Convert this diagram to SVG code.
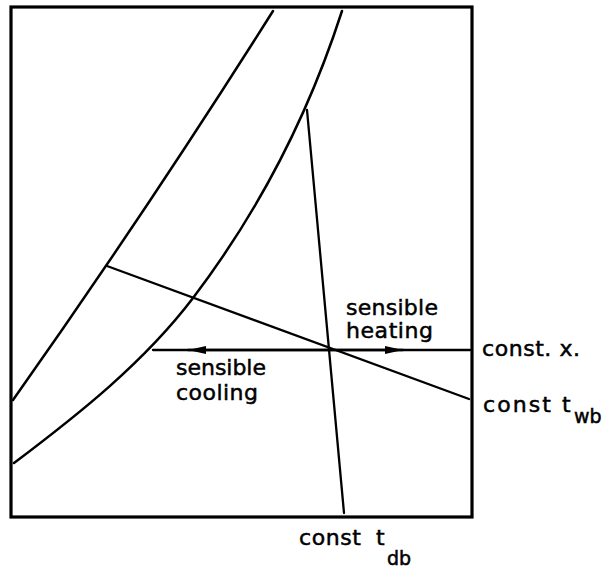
<svg xmlns="http://www.w3.org/2000/svg" width="609" height="575" viewBox="0 0 609 575">
<defs>
<style>
.frame{fill:none;stroke:#000;stroke-width:3.2}
.curve{fill:none;stroke:#000;stroke-width:2.5;stroke-linecap:round}
.ln{fill:none;stroke:#000;stroke-width:2.3;stroke-linecap:round}
.lbl{font-family:"DejaVu Sans","Liberation Sans",sans-serif;font-size:22px;fill:#000;stroke:#000;stroke-width:0.5}
.sub{font-family:"DejaVu Sans","Liberation Sans",sans-serif;font-size:19px;fill:#000;stroke:#000;stroke-width:0.5}
</style>
<marker id="arr" markerUnits="userSpaceOnUse" markerWidth="20" markerHeight="10" refX="18" refY="4" orient="auto">
<path d="M0,0 L18,4 L0,8 Z" fill="#000"/>
</marker>
</defs>
<rect id="frame" class="frame" x="11" y="7" width="461" height="510"/>
<g id="curve-left">
<path class="curve" d="M13,400 Q148,209 273,11"/>
</g>
<g id="curve-right">
<path class="curve" d="M14,463 C79,414 144,362.5 193,298 C261.4,208 310,110 342,11"/>
</g>
<g id="connectors">
<line id="const-tdb" class="ln" x1="307" y1="110" x2="344" y2="513"/>
<line id="const-twb" class="ln" x1="107" y1="266" x2="469" y2="399"/>
<line id="const-x" class="ln" x1="153" y1="350" x2="470" y2="350"/>
<path class="ln" d="M328,350 L403,350" marker-end="url(#arr)"/>
<path class="ln" d="M328,350 L188,350" marker-end="url(#arr)"/>
</g>
<g id="label-heating">
<text class="lbl" x="346" y="315" textLength="92" lengthAdjust="spacing">sensible</text>
<text class="lbl" x="346" y="338" textLength="87" lengthAdjust="spacing">heating</text>
</g>
<g id="label-cooling">
<text class="lbl" x="176" y="375" textLength="90" lengthAdjust="spacing">sensible</text>
<text class="lbl" x="176" y="400" textLength="82" lengthAdjust="spacing">cooling</text>
</g>
<g id="label-constx">
<text class="lbl" x="482" y="356" textLength="98" lengthAdjust="spacing">const. x.</text>
</g>
<g id="label-twb">
<text class="lbl" x="483" y="412" textLength="68" lengthAdjust="spacing">const</text>
<text class="lbl" x="562" y="412">t</text>
<text class="sub" x="574" y="423">wb</text>
</g>
<g id="label-tdb">
<text class="lbl" x="299" y="545" textLength="62" lengthAdjust="spacing">const</text>
<text class="lbl" x="376" y="545">t</text>
<text class="sub" x="387" y="565">db</text>
</g>
</svg>
